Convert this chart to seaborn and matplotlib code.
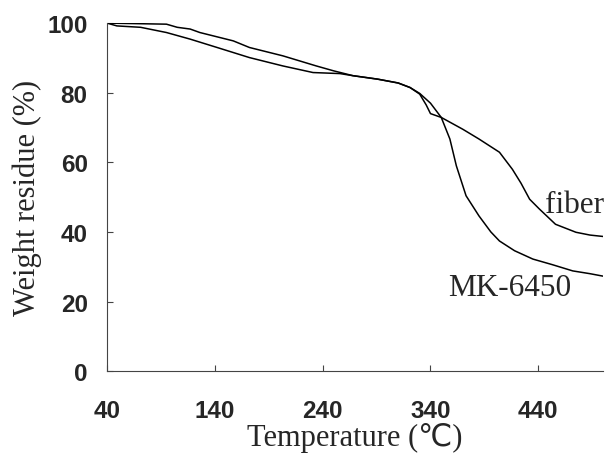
import seaborn as sns
from matplotlib import pyplot as plt

# temperature (C) and weight residue (%)
fiber_temp = [40, 95, 105, 117, 126, 157, 172, 203, 234, 250, 268, 291, 310, 321, 330,
              336, 340, 350, 370, 385, 404, 416, 424, 432, 441, 456, 475, 488, 500]
fiber_wt = [100, 99.7, 98.8, 98.3, 97.3, 94.9, 93.0, 90.6, 87.7, 86.3, 84.9, 83.9, 82.8, 81.5, 79.6,
            76.5, 74.0, 72.9, 69.5, 66.7, 62.9, 58.0, 54.0, 49.4, 46.6, 42.2, 39.9, 39.1, 38.7]

mk_temp = [40, 49, 71, 95, 117, 142, 172, 203, 231, 256, 268, 291, 310, 321, 330,
           340, 350, 358, 364, 373, 385, 396, 404, 418, 435, 453, 472, 488, 500]
mk_wt = [100, 99.2, 98.8, 97.3, 95.4, 93.0, 90.1, 87.7, 85.8, 85.5, 84.9, 83.9, 82.8, 81.5, 79.8,
         77.0, 72.9, 66.7, 59.0, 50.4, 44.6, 40.0, 37.4, 34.6, 32.2, 30.6, 28.8, 28.0, 27.3]

x_ticks = [40, 140, 240, 340, 440]
y_ticks = [0, 20, 40, 60, 80, 100]

sns.set_style('ticks')
serif = ['Liberation Serif', 'DejaVu Sans']

fig, ax = plt.subplots(figsize=(6.09, 4.64), dpi=100)
fig.subplots_adjust(left=0.176, right=0.99, top=0.948, bottom=0.198)

sns.lineplot(x=fiber_temp, y=fiber_wt, ax=ax, color='black', linewidth=1.1)
sns.lineplot(x=mk_temp, y=mk_wt, ax=ax, color='black', linewidth=1.1)

ax.set_xlim(40, 500)
ax.set_ylim(0, 100)
ax.set_xticks(x_ticks)
ax.set_yticks(y_ticks)
sns.despine(ax=ax)
for s in ['left', 'bottom']:
    ax.spines[s].set_linewidth(0.8)
    ax.spines[s].set_color('#444444')

ax.tick_params(axis='both', direction='in', length=4, width=0.8, color='#444444')
ax.tick_params(axis='x', pad=20)
ax.tick_params(axis='y', pad=14)
for lab in ax.get_xticklabels() + ax.get_yticklabels():
    lab.set_fontfamily('Liberation Sans')
    lab.set_fontweight('bold')
    lab.set_fontsize(17.5)

ax.set_xlabel('Temperature (℃)', family=serif, fontsize=22, labelpad=0)
ax.set_ylabel('Weight residue (%)', family=serif, fontsize=22, labelpad=4)

ax.text(446, 48, 'fiber', family=serif, fontsize=22.5, va='center', ha='left')
ax.text(356, 24.1, 'MK-6450', family=serif, fontsize=22.5, va='center', ha='left')

plt.savefig('out.png', dpi=100)
plt.close()
